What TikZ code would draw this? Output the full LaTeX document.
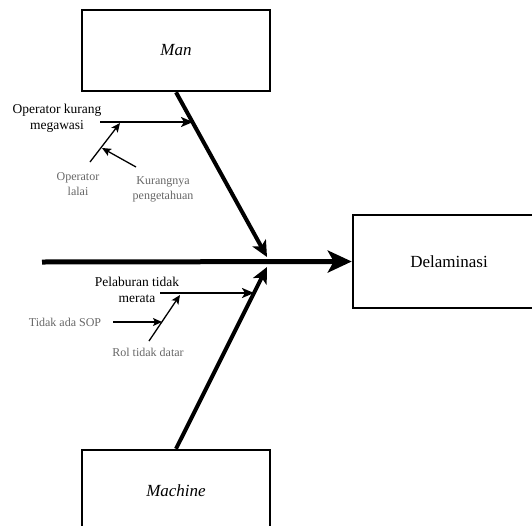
\documentclass[tikz,border=0pt]{standalone}
\usepackage{fontspec}
\setmainfont{Liberation Serif}
\usepackage{tikz}
\usetikzlibrary{arrows.meta}

\tikzset{
  bigbox/.style={draw, line width=2.5pt, minimum width=188pt, minimum height=81pt, font=\fontsize{17}{20}\selectfont},
  cause/.style={align=center, font=\fontsize{13.5}{16}\selectfont},
  subcause/.style={align=center, text=black!60, font=\fontsize{12}{15}\selectfont},
  bone/.style={line width=4pt, -{Stealth[length=16pt, width=15pt, inset=4pt]}},
  causearrow/.style={line width=2.2pt, -{Stealth[length=12pt, width=10pt, inset=3pt]}},
  subarrow/.style={line width=1.3pt, -{Stealth[length=9pt, width=8pt, inset=2pt]}}
}

\begin{document}
\begin{tikzpicture}[x=1pt, y=-1pt]
        \clip (0,0) rectangle (532,525);
        \useasboundingbox (0,0) rectangle (532,525);

        % Boxes
        \node[bigbox] (man) at (176,50.5) {\itshape Man};
        \node[bigbox, minimum height=82pt] (machine) at (176,491) {\itshape Machine};
        \node[bigbox, minimum width=192pt, minimum height=93pt] (delam) at (449,261.5) {Delaminasi};

        % Spine
        \coordinate (tail) at (42,262);
        \coordinate (jn) at (268,262);
        \draw[line width=5pt, -{Stealth[length=24pt, width=22pt, inset=6pt]}] (tail) -- (delam.west);

        % Bones
        \coordinate (mantip) at (267,257);
        \coordinate (mactip) at (267,267);
        \draw[bone] (man.south) -- (mantip);
        \draw[bone] (machine.north) -- (mactip);

        % Man causes
        \node[cause] (awas) at (57,118) {Operator kurang\\megawasi};
        \coordinate (awasS) at (100,122);
        \coordinate (awasE) at (193,122);
        \draw[causearrow] (awasS) -- (awasE);

        \node[subcause] (lalai) at (78,184) {Operator\\lalai};
        \coordinate (lalaiS) at (90,162);
        \coordinate (lalaiE) at (120,123);
        \draw[subarrow] (lalaiS) -- (lalaiE);

        \node[subcause] (tahu) at (163,189) {Kurangnya\\pengetahuan};
        \coordinate (tahuS) at (136,167);
        \coordinate (tahuE) at (102,148);
        \draw[subarrow] (tahuS) -- (tahuE);

        % Machine causes
        \node[cause] (lebur) at (137,290) {Pelaburan tidak\\merata};
        \coordinate (leburS) at (160,293);
        \coordinate (leburE) at (254,293);
        \draw[causearrow] (leburS) -- (leburE);

        \node[subcause] (sop) at (65,322) {Tidak ada SOP};
        \coordinate (sopS) at (113,322);
        \coordinate (sopE) at (162,322);
        \draw[subarrow] (sopS) -- (sopE);

        \node[subcause] (rol) at (148,352) {Rol tidak datar};
        \coordinate (rolS) at (149,341);
        \coordinate (rolE) at (180,295);
        \draw[subarrow] (rolS) -- (rolE);
\end{tikzpicture}
\end{document}
